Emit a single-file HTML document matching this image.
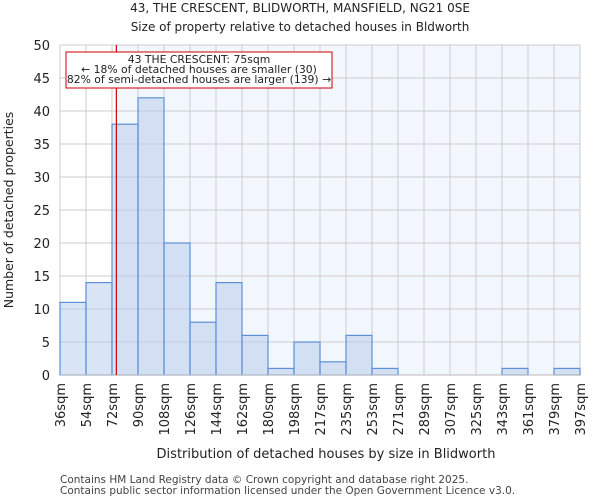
<!DOCTYPE html>
<html><head><meta charset="utf-8"><style>
body{margin:0;background:#fff;font-family:"DejaVu Sans","Liberation Sans",sans-serif}
</style></head><body>
<svg id="c" width="600" height="500" xmlns="http://www.w3.org/2000/svg" font-family="DejaVu Sans, Liberation Sans, sans-serif">
<text x="300" y="12" text-anchor="middle" font-size="12" fill="#222">43, THE CRESCENT, BLIDWORTH, MANSFIELD, NG21 0SE</text>
<text x="300" y="31" text-anchor="middle" font-size="12" fill="#222">Size of property relative to detached houses in Bldworth</text>
<g id="plot"></g>
<text x="326" y="458" text-anchor="middle" font-size="13" fill="#222">Distribution of detached houses by size in Blidworth</text>
<text transform="translate(13,210) rotate(-90)" text-anchor="middle" font-size="12.5" fill="#222">Number of detached properties</text>
<text x="60" y="483" font-size="10.5" fill="#444">Contains HM Land Registry data © Crown copyright and database right 2025.</text>
<text x="60" y="494" font-size="10.5" fill="#444">Contains public sector information licensed under the Open Government Licence v3.0.</text>
</svg>
<script>
const binLabels=["36sqm","54sqm","72sqm","90sqm","108sqm","126sqm","144sqm","162sqm","180sqm","198sqm","217sqm","235sqm","253sqm","271sqm","289sqm","307sqm","325sqm","343sqm","361sqm","379sqm","397sqm"];
const binEdges=[36,54,72,90,108,126,144,162,180,198,217,235,253,271,289,307,325,343,361,379,397];
const counts=[11,14,38,42,20,8,14,6,1,5,2,6,1,0,0,0,0,1,0,1];
const yTicks=[0,5,10,15,20,25,30,35,40,45,50];
const propertySize=75;
const NS="http://www.w3.org/2000/svg";
const X0=60,X1=580,Y0=375,Y1=45,nb=counts.length;
function xIdx(i){return X0+(X1-X0)*i/nb;}
function xVal(v){let i=0;while(i<nb-1&&v>binEdges[i+1])i++;return xIdx(i)+(v-binEdges[i])/(binEdges[i+1]-binEdges[i])*(X1-X0)/nb;}
function y(v){return Y0-(Y0-Y1)*v/50;}
const g=document.getElementById('plot');
function mk(t,a){const e=document.createElementNS(NS,t);for(const k in a)e.setAttribute(k,a[k]);g.appendChild(e);return e;}
const xr=xVal(propertySize);
let e=mk('rect',{x:xr,y:Y1,width:X1-xr,height:Y0-Y1,fill:'#f2f6fd'});


yTicks.forEach(t=>{
 let l=mk('line',{x1:X0,x2:X1,y1:y(t),y2:y(t),stroke:'#cccccc'});
 
 
 let tx=mk('text',{x:X0-10,y:y(t)+5,'text-anchor':'end','font-size':13,fill:'#222'});tx.textContent=t;
 
 
});
binLabels.forEach((s,i)=>{
 let l=mk('line',{x1:xIdx(i),x2:xIdx(i),y1:Y1,y2:Y0,stroke:'#cccccc'});
 
 
 let tx=mk('text',{transform:`translate(${xIdx(i)+5},383) rotate(-90)`,'text-anchor':'end','font-size':13,fill:'#222'});tx.textContent=s;
 
 
});
counts.forEach((c,i)=>{
 if(c<=0)return;
 let r=mk('rect',{x:xIdx(i),y:y(c),width:(X1-X0)/nb,height:Y0-y(c),fill:'rgba(180,202,236,0.5)',stroke:'#5b8fd9','stroke-width':1.2});
 
 
});
e=mk('line',{x1:X0,x2:X1,y1:Y0,y2:Y0,stroke:'#bbbbbb'});


e=mk('line',{x1:xr,x2:xr,y1:Y1,y2:Y0,stroke:'#cc0000','stroke-width':1.2});


e=mk('rect',{x:66,y:52,width:266,height:36,fill:'#fff',stroke:'#cc0000','stroke-width':1});


[["43 THE CRESCENT: 75sqm",63],["← 18% of detached houses are smaller (30)",73],["82% of semi-detached houses are larger (139) →",83]].forEach(([s,yy])=>{
 let t=mk('text',{x:199,y:yy,'text-anchor':'middle','font-size':10.8,fill:'#222'});t.textContent=s;
 
 
});
</script>
</body></html>
